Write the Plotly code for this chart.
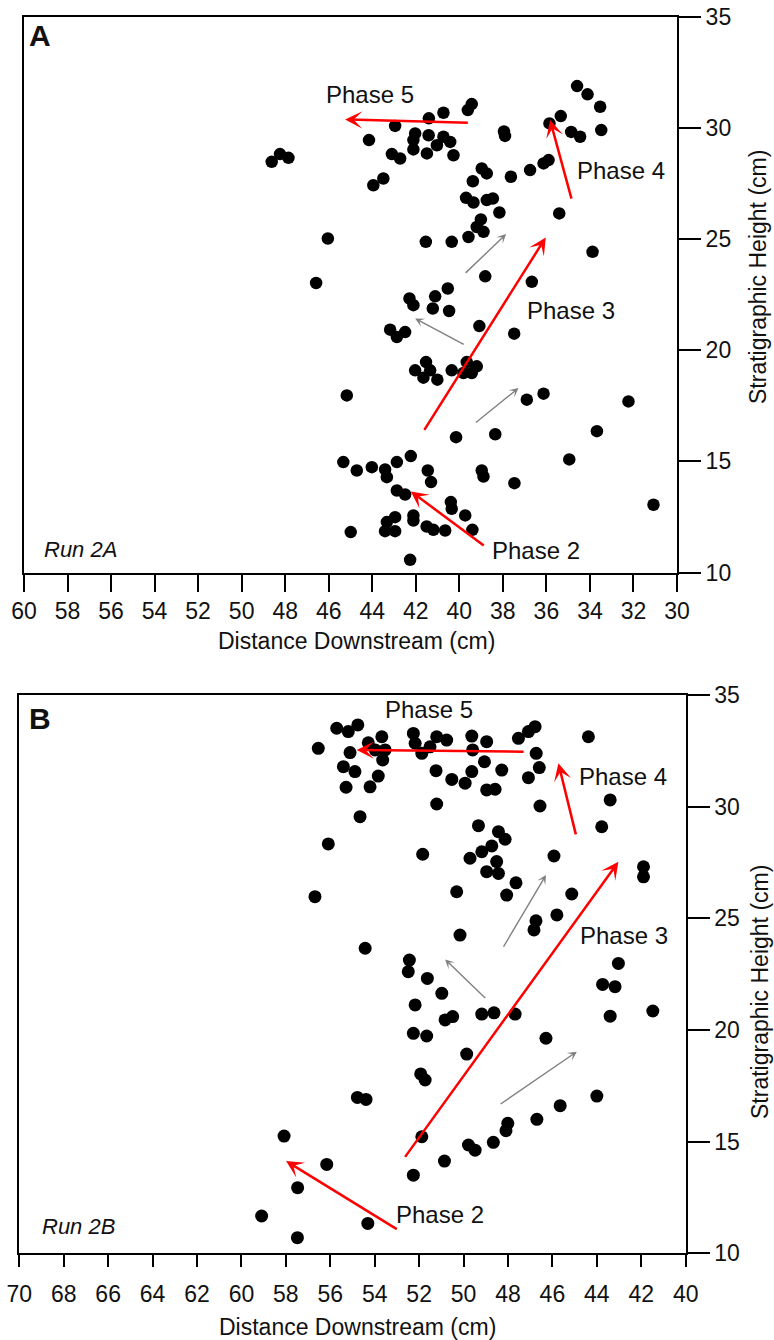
import plotly.graph_objects as go

W, H = 774, 1340

# ---------------- Panel A (Run 2A) ----------------
a_x = [34.59, 34.11, 33.53, 33.48, 35.34, 35.86, 34.86, 34.45, 35.90, 36.13,
       36.75, 37.63, 37.95, 37.90, 35.41, 33.88, 36.67, 38.81, 40.53, 41.11,
       42.29, 40.73, 41.40, 42.95, 44.15, 42.03, 41.41, 42.11, 42.11, 40.73,
       40.42, 41.03, 41.49, 40.27, 43.10, 42.72, 43.49, 43.95, 48.62, 48.24,
       47.85, 46.04, 46.58, 41.54, 40.35, 39.58, 39.61, 39.43, 38.97, 38.74,
       39.38, 39.69, 39.35, 38.74, 38.46, 38.16, 39.01, 39.20, 38.89, 42.11,
       41.22, 40.47, 39.08, 37.48, 43.18, 42.87, 42.49, 41.53, 42.03, 41.34,
       41.65, 41.01, 40.35, 39.66, 39.20, 39.81, 39.43, 45.17, 36.90, 36.13,
       32.23, 33.68, 38.35, 40.15, 34.95, 31.08, 37.47, 38.97, 38.89, 42.23,
       41.45, 41.30, 42.87, 43.41, 43.33, 42.87, 42.49, 40.39, 40.35, 39.73,
       39.40, 42.11, 42.11, 41.50, 41.19, 40.65, 42.95, 43.33, 43.41, 42.95,
       42.26, 45.33, 44.71, 44.02, 44.99]
a_y = [31.89, 31.52, 30.96, 29.91, 30.54, 30.21, 29.83, 29.61, 28.56, 28.41,
       28.11, 27.81, 29.85, 29.65, 26.16, 24.43, 23.08, 23.33, 22.78, 22.43,
       22.33, 30.69, 30.44, 30.10, 29.46, 29.76, 29.68, 29.46, 29.04, 29.61,
       29.38, 29.23, 28.86, 28.78, 28.83, 28.63, 27.73, 27.43, 28.48, 28.83,
       28.66, 25.03, 23.03, 24.88, 24.88, 25.10, 30.81, 31.08, 28.18, 27.96,
       27.61, 26.86, 26.65, 26.76, 26.83, 26.20, 25.89, 25.55, 25.33, 22.03,
       21.88, 21.77, 21.09, 20.75, 20.93, 20.60, 20.82, 19.47, 19.10, 19.10,
       18.77, 18.68, 19.10, 19.47, 19.28, 18.98, 18.98, 17.97, 17.78, 18.05,
       17.70, 16.36, 16.22, 16.09, 15.09, 13.05, 14.02, 14.59, 14.32, 15.24,
       14.59, 14.07, 14.97, 14.64, 14.29, 13.69, 13.51, 13.17, 12.87, 12.57,
       11.92, 12.57, 12.34, 12.07, 11.92, 11.89, 12.49, 12.27, 11.86, 11.86,
       10.57, 14.97, 14.59, 14.74, 11.82]

# arrows: (tail_x, tail_y, head_x, head_y)
a_red_arrows = [(39.54, 30.24, 45.25, 30.39),
                (34.83, 26.76, 35.83, 30.36),
                (41.65, 16.35, 36.03, 25.08),
                (38.81, 11.17, 42.23, 13.65)]
a_grey_arrows = [(39.78, 23.42, 37.85, 25.23),
                 (39.73, 20.23, 42.03, 21.43),
                 (39.31, 16.70, 37.28, 18.30)]
a_labels = ["Phase 5", "Phase 4", "Phase 3", "Phase 2"]
a_label_x = [44.1, 32.56, 34.89, 36.47]
a_label_y = [31.52, 28.11, 21.77, 10.99]

# ---------------- Panel B (Run 2B) ----------------
b_x = [55.71, 55.19, 54.76, 56.54, 55.11, 54.29, 53.68, 53.98, 53.53, 53.64,
       55.41, 54.89, 53.84, 55.29, 54.21, 54.66, 56.09, 56.69, 54.43, 52.26,
       52.18, 51.88, 51.51, 51.21, 50.76, 49.63, 48.96, 49.59, 49.06, 49.63,
       48.28, 51.24, 50.53, 49.93, 48.96, 48.58, 51.21, 47.53, 47.08, 46.78,
       46.73, 46.59, 47.08, 46.56, 51.84, 49.33, 48.43, 48.13, 48.73, 49.18,
       49.71, 48.51, 48.96, 48.43, 47.64, 50.31, 48.06, 44.38, 43.40, 43.78,
       45.93, 41.90, 41.90, 45.13, 45.80, 46.74, 46.83, 50.16, 43.03, 43.74,
       43.18, 52.44, 52.49, 51.63, 50.98, 52.18, 50.83, 50.49, 49.18, 48.63,
       47.68, 43.40, 41.48, 52.26, 51.66, 46.29, 49.86, 51.93, 51.73, 44.00,
       45.65, 46.70, 48.01, 48.09, 48.66, 49.78, 49.48, 50.86, 52.26, 51.88,
       54.78, 54.39, 58.08, 56.16, 57.47, 59.09, 54.31, 57.48]
b_y = [33.51, 33.36, 33.66, 32.61, 32.42, 32.86, 33.13, 32.54, 32.54, 32.09,
       31.79, 31.57, 31.37, 30.87, 30.89, 29.55, 28.33, 25.97, 23.66, 33.28,
       32.84, 32.39, 32.68, 33.13, 32.98, 33.16, 32.91, 32.54, 32.01, 31.57,
       31.64, 31.61, 31.22, 31.05, 30.75, 30.78, 30.12, 33.06, 33.36, 33.58,
       32.39, 31.75, 31.30, 30.03, 27.87, 29.15, 28.88, 28.54, 28.24, 27.98,
       27.69, 27.54, 27.09, 27.01, 26.59, 26.19, 26.04, 33.13, 30.30, 29.10,
       27.79, 27.31, 26.86, 26.09, 25.15, 24.89, 24.48, 24.25, 22.98, 22.04,
       21.94, 23.13, 22.61, 22.31, 21.64, 21.12, 20.45, 20.60, 20.71, 20.77,
       20.71, 20.62, 20.85, 19.85, 19.73, 19.63, 18.92, 18.03, 17.76, 17.04,
       16.61, 16.00, 15.82, 15.49, 14.97, 14.85, 14.62, 14.13, 13.50, 15.22,
       16.98, 16.89, 15.25, 13.98, 12.94, 11.67, 11.34, 10.70]

b_red_arrows = [(47.23, 32.46, 54.81, 32.54),
                (44.93, 28.69, 45.73, 31.94),
                (52.68, 14.25, 43.03, 27.53),
                (52.94, 11.04, 57.99, 14.13)]
b_grey_arrows = [(48.24, 23.66, 46.29, 26.94),
                 (48.96, 21.37, 50.83, 23.16),
                 (48.40, 16.64, 44.90, 19.03)]
b_labels = ["Phase 5", "Phase 4", "Phase 3", "Phase 2"]
b_label_x = [51.56, 42.81, 42.78, 51.04]
b_label_y = [34.33, 31.34, 24.25, 11.76]

a_xticks = list(range(60, 29, -2))
b_xticks = list(range(70, 39, -2))
yticks = [10, 15, 20, 25, 30, 35]

FONT = "Liberation Sans, Arial, Helvetica, sans-serif"
TXT = "#111111"

fig = go.Figure()
fig.add_trace(go.Scatter(x=a_x, y=a_y, mode="markers", xaxis="x", yaxis="y",
                         marker=dict(color="black", size=12.5, line=dict(width=0)),
                         showlegend=False, hoverinfo="skip"))
fig.add_trace(go.Scatter(x=b_x, y=b_y, mode="markers", xaxis="x2", yaxis="y2",
                         marker=dict(color="black", size=13, line=dict(width=0)),
                         showlegend=False, hoverinfo="skip"))

annotations = []


def add_arrows(arrows, xr, yr, color, width, size):
    for tx, ty, hx, hy in arrows:
        annotations.append(dict(
            x=hx, y=hy, ax=tx, ay=ty, xref=xr, yref=yr, axref=xr, ayref=yr,
            text="", showarrow=True, arrowhead=3, arrowsize=size,
            arrowwidth=width, arrowcolor=color, standoff=0, startstandoff=0))


add_arrows(a_red_arrows, "x", "y", "#ff0000", 2.5, 1.15)
add_arrows(a_grey_arrows, "x", "y", "#808080", 1.4, 1.1)
add_arrows(b_red_arrows, "x2", "y2", "#ff0000", 2.5, 1.15)
add_arrows(b_grey_arrows, "x2", "y2", "#808080", 1.4, 1.1)

for t, x, y in zip(a_labels, a_label_x, a_label_y):
    annotations.append(dict(x=x, y=y, xref="x", yref="y", text=t, showarrow=False,
                            font=dict(size=24, color=TXT, family=FONT),
                            xanchor="center", yanchor="middle"))
for t, x, y in zip(b_labels, b_label_x, b_label_y):
    annotations.append(dict(x=x, y=y, xref="x2", yref="y2", text=t, showarrow=False,
                            font=dict(size=24, color=TXT, family=FONT),
                            xanchor="center", yanchor="middle"))


def paper_text(text, px, py, size, angle=0):
    annotations.append(dict(x=px / W, y=1 - py / H, xref="paper", yref="paper",
                            text=text, showarrow=False, textangle=angle,
                            font=dict(size=size, color=TXT, family=FONT),
                            xanchor="center", yanchor="middle"))


paper_text("<b>A</b>", 40, 36, 30)
paper_text("<b>B</b>", 39.5, 718.5, 30)
paper_text("<i>Run 2A</i>", 80, 549, 22)
paper_text("<i>Run 2B</i>", 78.5, 1226, 22)
paper_text("Distance Downstream (cm)", 356.5, 641, 23)
paper_text("Distance Downstream (cm)", 357, 1327, 23)
paper_text("Stratigraphic Height (cm)", 758, 277, 23, -90)
paper_text("Stratigraphic Height (cm)", 760, 992, 23, -90)

axis_common = dict(showgrid=False, zeroline=False, showline=True, linewidth=2,
                   linecolor="black", mirror=True, ticks="outside", tickwidth=2,
                   tickcolor="black", automargin=False,
                   tickfont=dict(size=23, color=TXT, family=FONT))

fig.update_layout(
    width=W, height=H, autosize=False,
    margin=dict(l=0, r=0, t=0, b=0, pad=0, autoexpand=False),
    paper_bgcolor="white", plot_bgcolor="white", showlegend=False,
    xaxis=dict(domain=[24 / W, 677 / W], range=[60, 30], tickvals=a_xticks,
               ticklen=17, anchor="y", **axis_common),
    yaxis=dict(domain=[1 - 572.5 / H, 1 - 17 / H], range=[10, 35], tickvals=yticks,
               side="right", ticklen=22, anchor="x", **axis_common),
    xaxis2=dict(domain=[19.3 / W, 685.7 / W], range=[70, 40], tickvals=b_xticks,
                ticklen=12, ticklabelstandoff=7, anchor="y2", **axis_common),
    yaxis2=dict(domain=[1 - 1253.3 / H, 1 - 695 / H], range=[10, 35], tickvals=yticks,
                side="right", ticklen=22, anchor="x2", **axis_common),
    annotations=annotations,
)

fig.write_html("out.html")
